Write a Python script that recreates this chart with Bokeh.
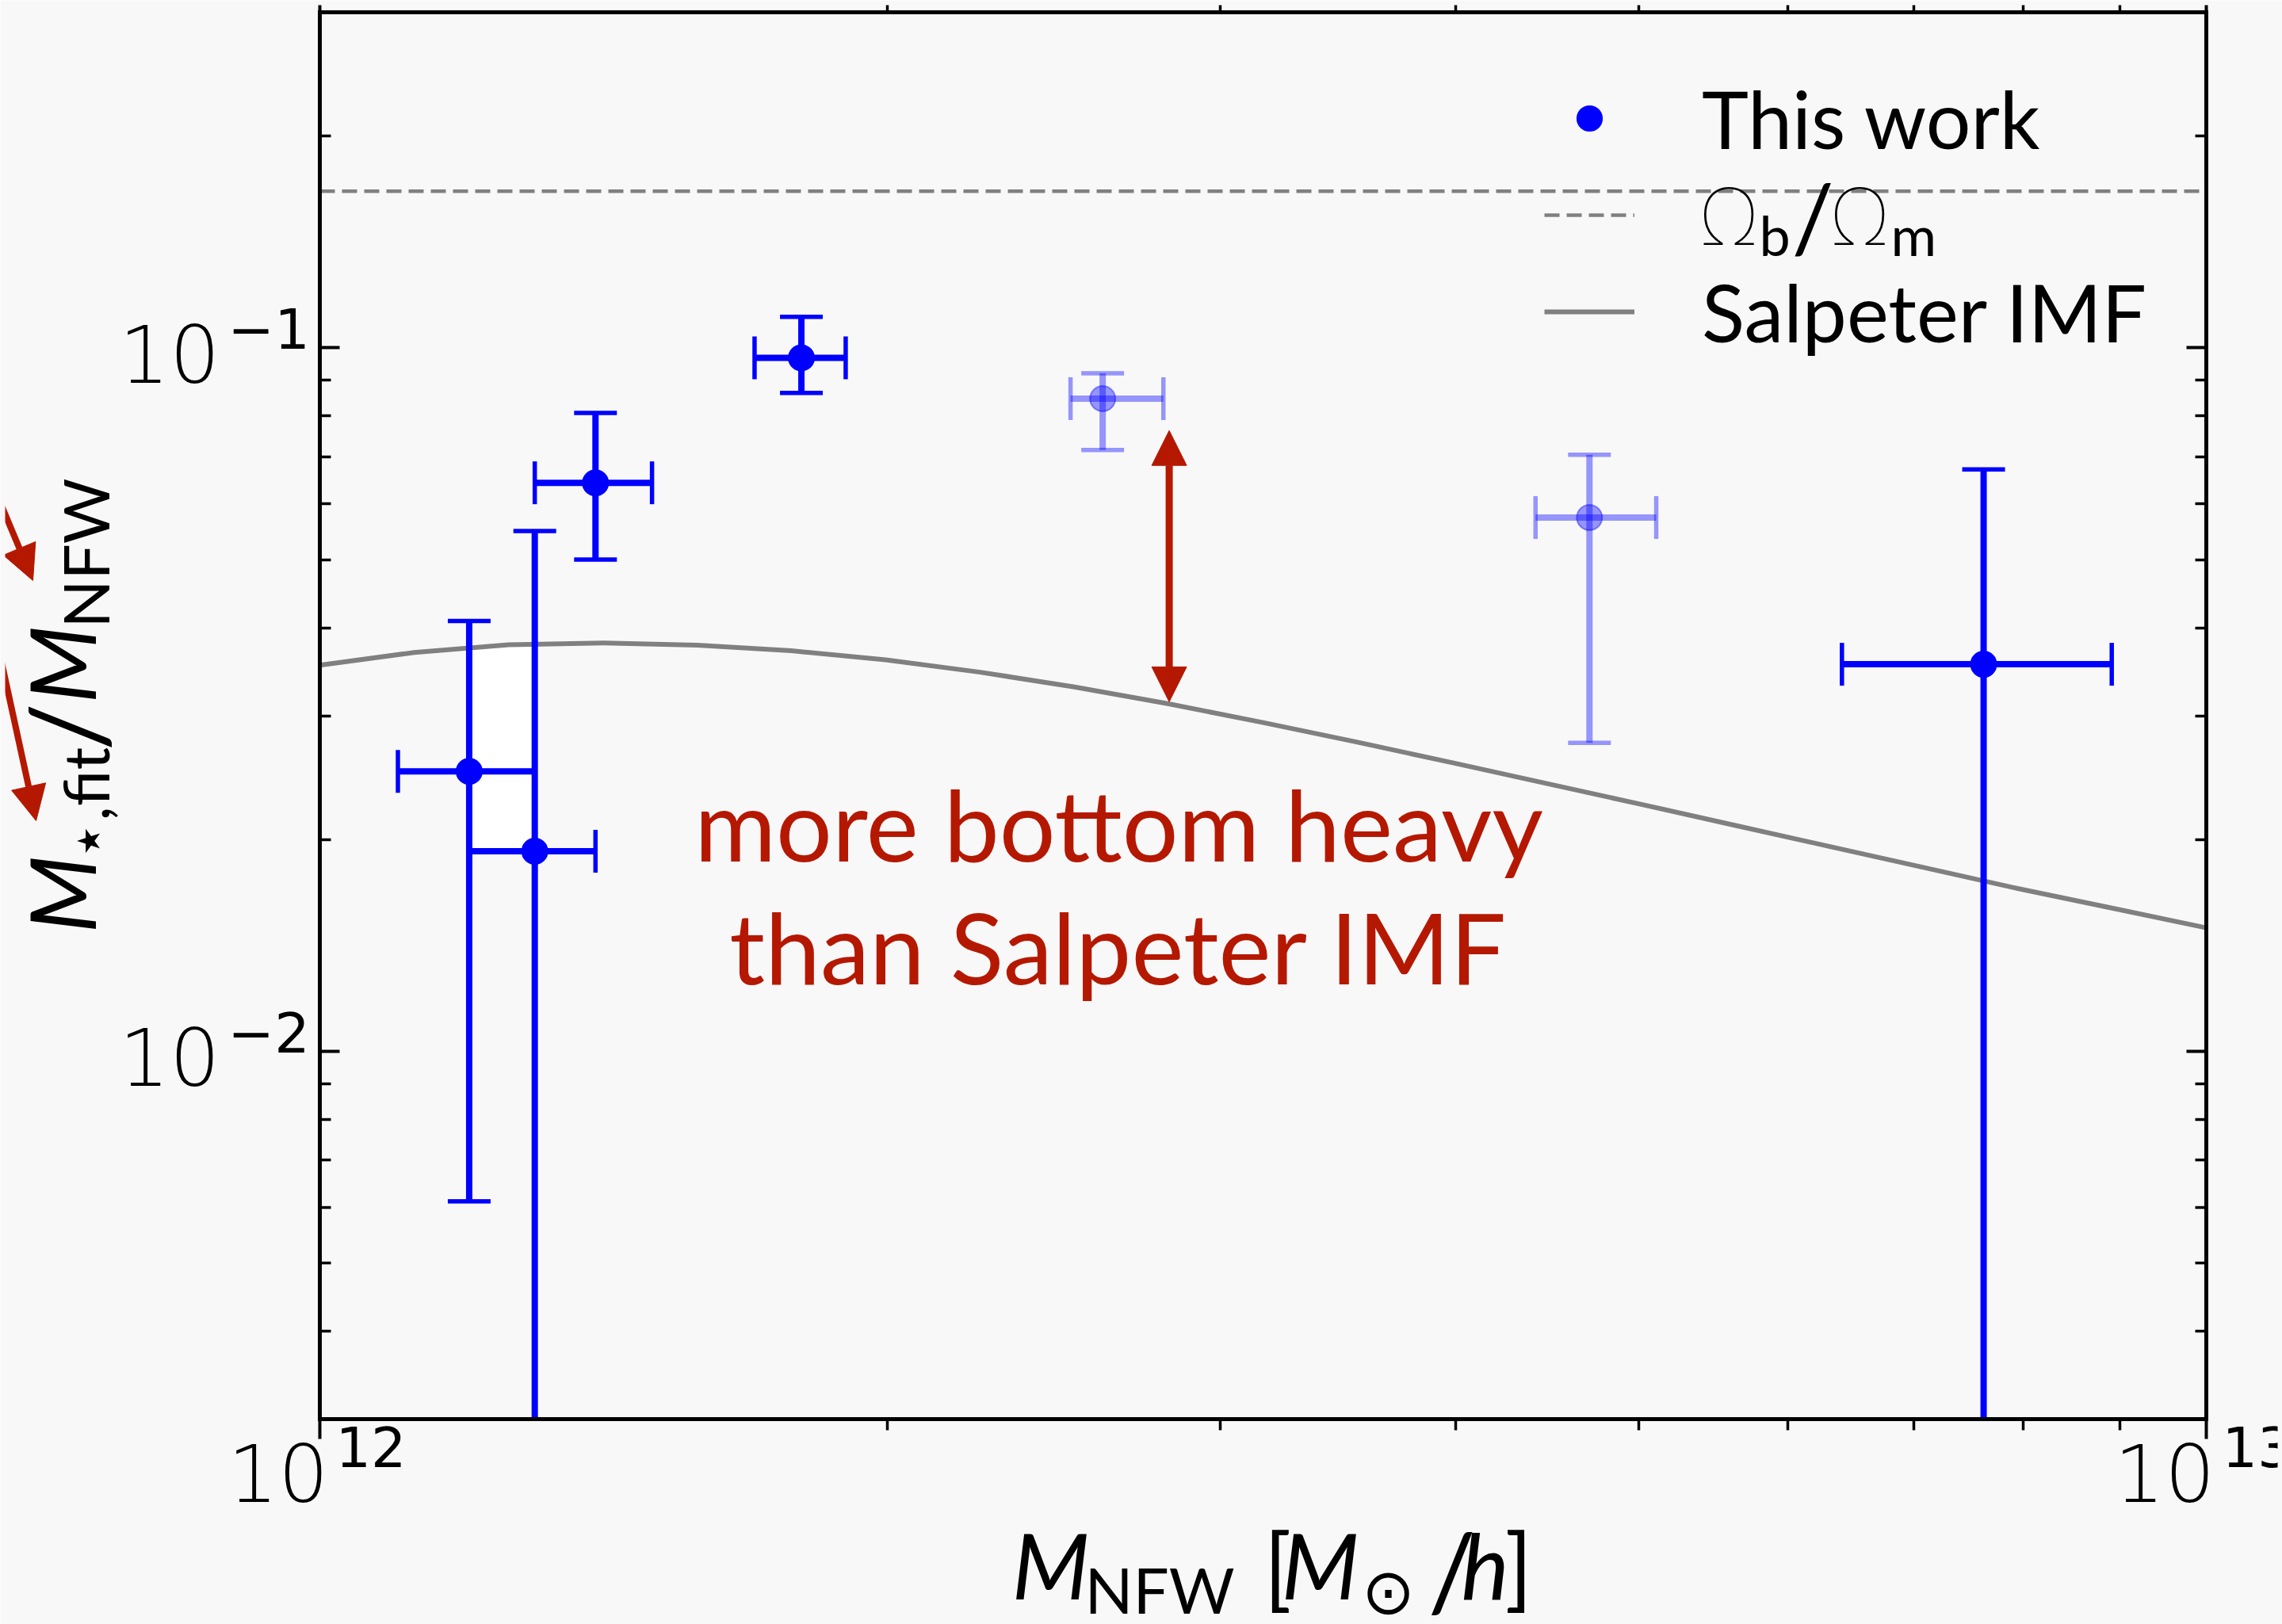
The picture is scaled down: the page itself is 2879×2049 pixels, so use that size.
import math
from bokeh.plotting import figure
from bokeh.models import (Range1d, LogAxis, FixedTicker, CustomJSTickFormatter, Label, Arrow,
                          NormalHead, Legend, LegendItem, ColumnDataSource)
from bokeh.embed import file_html
from bokeh.resources import INLINE

# ---------------- data ----------------
mass     = [1.20e12, 1.30e12, 1.40e12, 1.80e12, 2.60e12, 4.71e12, 7.62e12]
mass_lo  = [1.10e12, 1.20e12, 1.30e12, 1.70e12, 2.50e12, 4.41e12, 6.41e12]
mass_hi  = [1.30e12, 1.40e12, 1.50e12, 1.90e12, 2.80e12, 5.11e12, 8.91e12]
ratio    = [0.0250, 0.01925, 0.0643, 0.0968, 0.0847, 0.0574, 0.0355]
ratio_lo = [0.00612, 0.001, 0.0500, 0.0863, 0.0716, 0.02745, 0.001]
ratio_hi = [0.0409, 0.0549, 0.0808, 0.1107, 0.0920, 0.0705, 0.0672]
tentative = [False, False, False, False, True, True, False]

salp_mass  = [1.000e12, 1.122e12, 1.259e12, 1.413e12, 1.585e12, 1.778e12, 1.995e12,
              2.239e12, 2.512e12, 2.818e12, 3.162e12, 3.548e12, 3.981e12, 4.467e12,
              5.012e12, 5.623e12, 6.310e12, 7.079e12, 7.943e12, 8.913e12, 1.000e13]
salp_ratio = [0.03540, 0.03690, 0.03784, 0.03806, 0.03780, 0.03711, 0.03602,
              0.03459, 0.03296, 0.03119, 0.02934, 0.02751, 0.02573, 0.02404,
              0.02246, 0.02096, 0.01956, 0.01826, 0.01704, 0.01598, 0.01498]
omega_b_over_m = 0.167

x_ticks = [1e12, 1e13]
x_minor = [2e12, 3e12, 4e12, 5e12, 6e12, 7e12, 8e12, 9e12]
x_tick_base = ["10", "10"]
x_tick_exp = ["12", "13"]
y_ticks = [0.01, 0.1]
y_minor = [0.004, 0.005, 0.006, 0.007, 0.008, 0.009,
           0.02, 0.03, 0.04, 0.05, 0.06, 0.07, 0.08, 0.09, 0.2]
y_tick_base = ["10", "10"]
y_tick_exp = ["\u22122", "\u22121"]

arrow_x = 2.82e12
arrow_y_top = 0.0763
arrow_y_bottom = 0.0314

# ---------------- layout / style ----------------
W, H = 2879, 2049
MB = 6                                   # canvas border
BL, BR, BT, BB = 403, 2783, 15, 1790     # axes box on the canvas (px)
X0, X1 = 1e12, 1e13
Y0, Y1 = 0.003, 0.3
DX = (BR - BL) / math.log10(X1 / X0)     # px per decade
DY = (BB - BT) / math.log10(Y1 / Y0)
x_start = 10 ** (math.log10(X0) - (BL - MB) / DX)
x_end = 10 ** (math.log10(X1) + (W - MB - BR) / DX)
y_start = 10 ** (math.log10(Y0) - (H - MB - BB) / DY)
y_end = 10 ** (math.log10(Y1) + (BT - MB) / DY)

BG = "#f8f8f8"
BLUE = "#0000ff"
GRAY = "#808080"
RED = "#b51800"
FONT = "Lato"
TICKFONT = "DejaVu Sans"
GREEK = "Noto Sans"
MID = {FONT: 0.387, TICKFONT: 0.346, GREEK: 0.388}   # baseline -> middle shift (fraction of size)

p = figure(width=W, height=H, x_axis_type="log", y_axis_type="log",
           x_range=Range1d(x_start, x_end), y_range=Range1d(y_start, y_end),
           output_backend="svg", toolbar_location=None,
           min_border_left=MB, min_border_right=MB, min_border_top=MB, min_border_bottom=MB,
           background_fill_color=BG, border_fill_color=BG)
p.outline_line_color = None
p.grid.visible = False

p.add_layout(LogAxis(), "above")
p.add_layout(LogAxis(), "right")
xt = FixedTicker(ticks=x_ticks, minor_ticks=x_minor)
yt = FixedTicker(ticks=y_ticks, minor_ticks=y_minor)
p.xaxis[0].fixed_location = Y0
p.xaxis[1].fixed_location = Y1
p.yaxis[0].fixed_location = X0
p.yaxis[1].fixed_location = X1
for ax in p.xaxis:
    ax.ticker = xt
    ax.bounds = (X0, X1)
for ax in p.yaxis:
    ax.ticker = yt
    ax.bounds = (Y0, Y1)
for ax in list(p.xaxis) + list(p.yaxis):
    ax.formatter = CustomJSTickFormatter(code="return ''")
    ax.axis_line_width = 5
    ax.axis_line_color = "black"
    ax.axis_line_cap = "square"
    ax.major_tick_in = 25
    ax.major_tick_out = 0
    ax.minor_tick_in = 14
    ax.minor_tick_out = 0
    ax.major_tick_line_width = 4
    ax.minor_tick_line_width = 3.5
    ax.major_tick_line_color = "black"
    ax.minor_tick_line_color = "black"
    ax.major_label_standoff = 0

# white patch between the two low-mass bins (as in the reference)
p.quad(left=[mass[0]], right=[mass[1]], bottom=[ratio[1]], top=[salp_ratio[2]],
       fill_color="white", line_color=None)

# Omega_b / Omega_m line and Salpeter curve
r_omega = p.line(x=[X0, X1], y=[omega_b_over_m, omega_b_over_m], line_color=GRAY,
                 line_width=4.5, line_dash="19 9")
r_salp = p.line(x=salp_mass, y=salp_ratio, line_color=GRAY, line_width=6)

# data points with error bars (bars are cut at the lower edge of the axes box)
r_main = None
for flag, alpha in ((False, 1.0), (True, 0.4)):
    idx = [i for i, t in enumerate(tentative) if t == flag]
    s = ColumnDataSource(dict(
        x=[mass[i] for i in idx], xlo=[mass_lo[i] for i in idx], xhi=[mass_hi[i] for i in idx],
        y=[ratio[i] for i in idx], ylo=[max(ratio_lo[i], Y0) for i in idx],
        yhi=[ratio_hi[i] for i in idx]))
    cap_lo = ColumnDataSource(dict(x=[mass[i] for i in idx if ratio_lo[i] >= Y0],
                                   y=[ratio_lo[i] for i in idx if ratio_lo[i] >= Y0]))
    p.segment(x0="xlo", y0="y", x1="xhi", y1="y", source=s, line_color=BLUE, line_width=8, line_alpha=alpha)
    p.segment(x0="x", y0="ylo", x1="x", y1="yhi", source=s, line_color=BLUE, line_width=8, line_alpha=alpha)
    cap = dict(marker="dash", size=54, line_color=BLUE, line_width=5.5, line_alpha=alpha)
    p.scatter(x="x", y="y", source=cap_lo, **cap)
    p.scatter(x="x", y="yhi", source=s, **cap)
    p.scatter(x="xlo", y="y", source=s, angle=math.pi / 2, **cap)
    p.scatter(x="xhi", y="y", source=s, angle=math.pi / 2, **cap)
    r = p.scatter(x="x", y="y", source=s, size=32, fill_color=BLUE, line_color=BLUE,
                  fill_alpha=alpha, line_alpha=alpha, line_width=2)
    if not flag:
        r_main = r

legend = Legend(items=[LegendItem(label="This work", renderers=[r_main]),
                       LegendItem(label=" ", renderers=[r_omega]),
                       LegendItem(label="Salpeter IMF", renderers=[r_salp])],
                location=(1942, 1589), glyph_width=114, glyph_height=78, label_height=122,
                label_standoff=85, spacing=0, padding=0, margin=0,
                border_line_color=None, background_fill_alpha=0,
                label_text_font=FONT, label_text_font_size="100px", label_text_color="black")
p.add_layout(legend)


def lab(text, dx, dy, size, x=X0, y=Y0, font=FONT, style="normal", align="left",
        color="black", rotated=False):
    """dx, dy: px offset of the text's start point on its baseline from the data anchor."""
    k = MID.get(font, 0.38) * size
    if rotated:
        dx, angle = dx - k, math.pi / 2
    else:
        dy, angle = dy + k, 0.0
    p.add_layout(Label(x=x, y=y, x_offset=dx, y_offset=dy, text=text, text_font=font,
                       text_font_size=f"{size}px", text_font_style=style, text_align=align,
                       text_baseline="middle", text_color=color, angle=angle))


# legend label for Omega_b / Omega_m (with subscripts)
lab("\u03a9", 1744, 1482, 100, font=GREEK)
lab("b", 1816, 1467, 70)
lab("/", 1857, 1472, 118)
lab("\u03a9", 1909, 1482, 100, font=GREEK)
lab("m", 1982, 1467, 70)

# tick labels
for t, b, e in zip(x_ticks, x_tick_base, x_tick_exp):
    lab(b, 11, -103, 100, x=t, font=TICKFONT, align="right")
    lab(e, 20, -59, 70, x=t, font=TICKFONT)
for t, b, e in zip(y_ticks, y_tick_base, y_tick_exp):
    lab(b, -126, -42, 100, y=t, font=TICKFONT, align="right")
    lab(e, -116, 0, 70, y=t, font=TICKFONT)

# x axis label
for txt, dx, dy, sz, st in (("M", 873, -227, 114, "italic"), ("NFW", 965, -245, 80, "normal"),
                            ("[", 1191, -227, 114, "normal"), ("M", 1213, -227, 114, "italic"),
                            ("\u2299", 1314, -245, 80, "normal"), ("/", 1398, -241, 134, "normal"),
                            ("h", 1440, -227, 114, "italic"), ("]", 1495, -227, 114, "normal")):
    lab(txt, dx, dy, sz, style=st)

# y axis label (rotated)
for txt, dx, dy, sz, st in (("M", -283, 613, 114, "italic"), ("\u22c6,fit", -266, 705, 80, "normal"),
                            ("/", -269, 843, 134, "normal"), ("M", -283, 903, 114, "italic"),
                            ("NFW", -266, 998, 80, "normal")):
    lab(txt, dx, dy, sz, style=st, rotated=True)

# annotation text
lab("more bottom heavy", 1008, 703, 125, color=RED, align="center")
lab("than Salpeter IMF", 1008, 548, 125, color=RED, align="center")


def px2data(dx, dy):
    return X0 * 10 ** (dx / DX), Y0 * 10 ** (dy / DY)


def head():
    return NormalHead(size=44, fill_color=RED, line_color=RED, line_width=1)


p.add_layout(Arrow(start=head(), end=head(), x_start=arrow_x, y_start=arrow_y_top,
                   x_end=arrow_x, y_end=arrow_y_bottom, line_color=RED, line_width=9))
for (sdx, sdy), (edx, edy) in (((-413, 1180), (-362, 1058)), ((-413, 1008), (-358, 755))):
    xs, ys = px2data(sdx, sdy)
    xe, ye = px2data(edx, edy)
    p.add_layout(Arrow(end=head(), x_start=xs, y_start=ys, x_end=xe, y_end=ye,
                       line_color=RED, line_width=8))

open("out.html", "w").write(file_html(p, INLINE))
